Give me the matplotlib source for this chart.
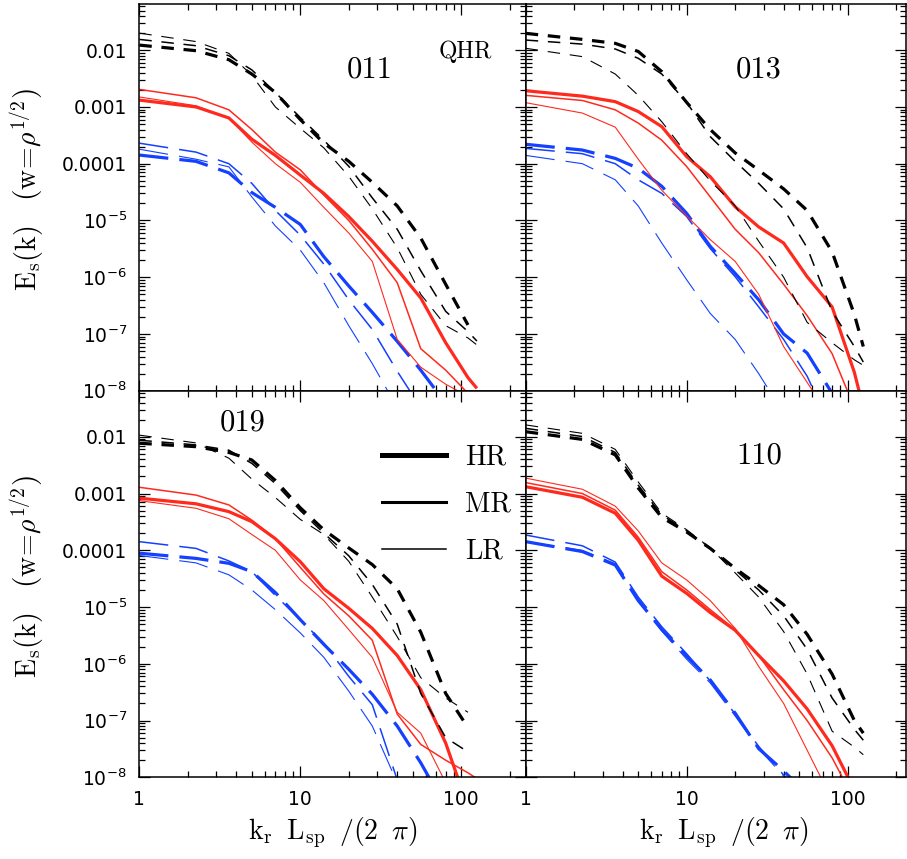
import matplotlib
matplotlib.use("Agg")
import matplotlib.pyplot as plt
import numpy as np
from matplotlib.lines import Line2D
from matplotlib.ticker import FixedLocator, FixedFormatter, LogLocator, NullFormatter

plt.rcParams['lines.scale_dashes'] = False
nan = float('nan')

# ---------------- data ----------------
k = [1, 2.25, 3.6, 5, 7, 10, 14, 20, 28, 40, 56, 80, 110, 125]

# panel 011
black_hr_011 = [1.23e-2, 9.8e-3, 6.8e-3, 3.8e-3, 1.8e-3, 6.0e-4, 2.3e-4, 1.1e-4, 4.7e-5, 1.8e-5, 4.9e-6, 7.5e-7, 1.44e-7, nan]
black_mr_011 = [1.55e-2, 1.20e-2, 8.0e-3, 4.5e-3, 1.8e-3, 6.5e-4, 2.6e-4, 9.0e-5, 2.5e-5, 7.0e-6, 1.3e-6, 2.5e-7, 1.1e-7, 7.5e-8]
black_lr_011 = [2.0e-2, 1.42e-2, 8.8e-3, 3.6e-3, 1.0e-3, 4.2e-4, 1.9e-4, 6.0e-5, 1.6e-5, 3.3e-6, 5.0e-7, 1.4e-7, 8.5e-8, 6.4e-8]
red_hr_011 = [1.32e-3, 1.0e-3, 6.4e-4, 2.7e-4, 1.4e-4, 6.3e-5, 3.0e-5, 1.17e-5, 4.3e-6, 1.37e-6, 4.3e-7, 7.0e-8, 1.7e-8, 1.1e-8]
red_mr_011 = [2.04e-3, 1.45e-3, 8.9e-4, 4.0e-4, 1.6e-4, 7.8e-5, 2.8e-5, 1.0e-5, 3.1e-6, 8.0e-7, 5.5e-8, 2.3e-8, 9e-9, nan]
red_lr_011 = [1.5e-3, 1.05e-3, 6.4e-4, 2.4e-4, 1.0e-4, 4.7e-5, 1.7e-5, 6.0e-6, 1.9e-6, 8.0e-8, 2.6e-8, 1.3e-8, 8e-9, nan]
blue_hr_011 = [1.42e-4, 1.10e-4, 6.9e-5, 3.1e-5, 1.7e-5, 8.5e-6, 2.3e-6, 7.0e-7, 2.4e-7, 7.4e-8, 2.3e-8, 6e-9, nan, nan]
blue_mr_011 = [2.3e-4, 1.6e-4, 1.0e-4, 4.5e-5, 1.5e-5, 5.5e-6, 1.7e-6, 4.0e-7, 1.2e-7, 2.2e-8, 5e-9, nan, nan, nan]
blue_lr_011 = [1.8e-4, 1.2e-4, 8.8e-5, 2.6e-5, 8.0e-6, 3.0e-6, 8.0e-7, 1.4e-7, 3.0e-8, 5e-9, nan, nan, nan, nan]

# panel 013
black_hr_013 = [1.98e-2, 1.55e-2, 1.32e-2, 9.5e-3, 4.2e-3, 1.2e-3, 4.0e-4, 1.55e-4, 7.7e-5, 3.6e-5, 1.5e-5, 2.8e-6, 2.2e-7, 6.0e-8]
black_mr_013 = [1.51e-2, 1.28e-2, 1.05e-2, 7.2e-3, 3.8e-3, 1.2e-3, 3.0e-4, 1.1e-4, 4.5e-5, 1.6e-5, 3.3e-6, 2.5e-7, 6.0e-8, 3.2e-8]
black_lr_013 = [1.08e-2, 7.7e-3, 3.8e-3, 1.6e-3, 5.5e-4, 1.5e-4, 5.0e-5, 1.8e-5, 4.3e-6, 1.0e-6, 1.6e-7, 7.0e-8, 3.5e-8, 2.8e-8]
red_hr_013 = [1.93e-3, 1.55e-3, 1.24e-3, 8.3e-4, 4.5e-4, 1.33e-4, 5.9e-5, 1.74e-5, 7.7e-6, 4.0e-6, 1.02e-6, 3.0e-7, 2.1e-8, 5e-9]
red_mr_013 = [1.6e-3, 1.3e-3, 8.9e-4, 5.2e-4, 2.6e-4, 8.9e-5, 2.6e-5, 7.0e-6, 2.7e-6, 7.5e-7, 2.1e-7, 4.5e-8, 5e-9, nan]
red_lr_013 = [1.19e-3, 7.8e-4, 4.4e-4, 1.2e-4, 3.4e-5, 1.2e-5, 4.6e-6, 1.9e-6, 5.0e-7, 6.0e-8, 1.4e-8, 3e-9, nan, nan]
blue_hr_013 = [2.2e-4, 1.74e-4, 1.24e-4, 8.3e-5, 4.0e-5, 1.33e-5, 3.5e-6, 1.17e-6, 4.0e-7, 1.0e-7, 4.6e-8, 9e-9, nan, nan]
blue_mr_013 = [1.86e-4, 1.5e-4, 1.0e-4, 5.2e-5, 3.0e-5, 1.17e-5, 3.2e-6, 1.02e-6, 3.0e-7, 8.0e-8, 1.8e-8, 2e-9, nan, nan]
blue_lr_013 = [1.4e-4, 1.0e-4, 5.2e-5, 1.8e-5, 4.0e-6, 9.0e-7, 2.3e-7, 8.0e-8, 2.0e-8, 4e-9, nan, nan, nan, nan]

# panel 019
black_hr_019 = [7.7e-3, 6.7e-3, 5.3e-3, 3.9e-3, 1.7e-3, 5.6e-4, 2.3e-4, 1.1e-4, 5.6e-5, 2.1e-5, 3.6e-6, 3.0e-7, 7.5e-8, nan]
black_mr_019 = [8.7e-3, 7.2e-3, 5.8e-3, 3.4e-3, 1.5e-3, 5.0e-4, 2.0e-4, 8.0e-5, 2.5e-5, 5.0e-6, 3.0e-7, 5.0e-8, 2.8e-8, nan]
black_lr_019 = [1.07e-2, 7.8e-3, 4.2e-3, 1.8e-3, 8.5e-4, 3.5e-4, 1.9e-4, 6.4e-5, 1.5e-5, 3.0e-6, 5.7e-7, 2.5e-7, 1.4e-7, nan]
red_hr_019 = [8.3e-4, 6.6e-4, 4.8e-4, 3.2e-4, 1.6e-4, 6.3e-5, 2.1e-5, 9.5e-6, 4.2e-6, 1.4e-6, 3.5e-7, 4.0e-8, 3e-9, nan]
red_mr_019 = [1.29e-3, 9.4e-4, 6.3e-4, 3.4e-4, 1.6e-4, 5.0e-5, 1.7e-5, 7.0e-6, 2.6e-6, 1.3e-7, 3.8e-8, 2.0e-8, 1.2e-8, 9.5e-9]
red_lr_019 = [7.5e-4, 5.5e-4, 3.6e-4, 1.9e-4, 1.0e-4, 3.0e-5, 1.3e-5, 4.0e-6, 1.3e-6, 1.4e-7, 6.0e-8, 8e-9, nan, nan]
blue_hr_019 = [8.9e-5, 7.2e-5, 5.9e-5, 4.2e-5, 1.8e-5, 6.0e-6, 2.2e-6, 8.0e-7, 2.9e-7, 8.0e-8, 1.8e-8, 3e-9, nan, nan]
blue_mr_019 = [1.42e-4, 1.08e-4, 6.5e-5, 4.2e-5, 1.6e-5, 6.0e-6, 2.3e-6, 6.0e-7, 1.9e-7, 9e-9, nan, nan, nan, nan]
blue_lr_019 = [8.1e-5, 6.0e-5, 3.7e-5, 2.0e-5, 9.0e-6, 3.5e-6, 1.3e-6, 3.3e-7, 8.0e-8, 8e-9, nan, nan, nan, nan]

# panel 110
black_hr_110 = [1.23e-2, 9.0e-3, 4.8e-3, 1.25e-3, 3.8e-4, 2.1e-4, 1.08e-4, 4.8e-5, 2.4e-5, 1.1e-5, 3.3e-6, 6.6e-7, 1.0e-7, 6.0e-8]
black_mr_110 = [1.41e-2, 1.01e-2, 5.3e-3, 1.4e-3, 4.2e-4, 2.2e-4, 1.1e-4, 4.5e-5, 2.0e-5, 7.0e-6, 1.8e-6, 2.5e-7, 7.0e-8, 4.5e-8]
black_lr_110 = [1.62e-2, 1.15e-2, 6.0e-3, 1.6e-3, 4.5e-4, 2.3e-4, 1.1e-4, 4.0e-5, 1.5e-5, 3.7e-6, 6.6e-7, 6.5e-8, 3.4e-8, 2.5e-8]
red_hr_110 = [1.32e-3, 8.6e-4, 4.5e-4, 1.5e-4, 3.5e-5, 1.74e-5, 8.0e-6, 3.9e-6, 1.4e-6, 5.0e-7, 1.6e-7, 3.6e-8, 6e-9, nan]
red_mr_110 = [1.56e-3, 1.0e-3, 5.1e-4, 1.7e-4, 4.2e-5, 2.0e-5, 9.0e-6, 4.0e-6, 1.4e-6, 3.5e-7, 1.0e-7, 2.2e-8, 4e-9, nan]
red_lr_110 = [1.87e-3, 1.19e-3, 6.0e-4, 2.2e-4, 6.0e-5, 3.0e-5, 1.3e-5, 4.2e-6, 9.0e-7, 2.0e-7, 3.0e-8, 4e-9, nan, nan]
blue_hr_110 = [1.42e-4, 9.5e-5, 5.5e-5, 1.3e-5, 4.0e-6, 1.35e-6, 5.2e-7, 1.35e-7, 3.2e-8, 1.3e-8, 5e-9, nan, nan, nan]
blue_mr_110 = [1.86e-4, 1.2e-4, 6.2e-5, 1.5e-5, 4.5e-6, 1.5e-6, 5.0e-7, 1.3e-7, 3.5e-8, 1.1e-8, 4e-9, nan, nan, nan]
blue_lr_110 = [1.42e-4, 1.0e-4, 5.8e-5, 1.4e-5, 3.8e-6, 1.2e-6, 4.6e-7, 1.2e-7, 3.2e-8, 1.05e-8, 4e-9, nan, nan, nan]

panel_names = ['011', '013', '019', '110']
resolutions = ['HR', 'MR', 'LR']
ytick_values = [1e-2, 1e-3, 1e-4, 1e-5, 1e-6, 1e-7, 1e-8]
ytick_labels = ['0.01', '0.001', '0.0001', r'$10^{-5}$', r'$10^{-6}$', r'$10^{-7}$', r'$10^{-8}$']
xtick_values = [1, 10, 100]
xtick_labels = ['1', '10', '100']

series = {
    '011': {'black': [black_hr_011, black_mr_011, black_lr_011],
            'red': [red_hr_011, red_mr_011, red_lr_011],
            'blue': [blue_hr_011, blue_mr_011, blue_lr_011]},
    '013': {'black': [black_hr_013, black_mr_013, black_lr_013],
            'red': [red_hr_013, red_mr_013, red_lr_013],
            'blue': [blue_hr_013, blue_mr_013, blue_lr_013]},
    '019': {'black': [black_hr_019, black_mr_019, black_lr_019],
            'red': [red_hr_019, red_mr_019, red_lr_019],
            'blue': [blue_hr_019, blue_mr_019, blue_lr_019]},
    '110': {'black': [black_hr_110, black_mr_110, black_lr_110],
            'red': [red_hr_110, red_mr_110, red_lr_110],
            'blue': [blue_hr_110, blue_mr_110, blue_lr_110]},
}

# ---------------- style ----------------
colors = {'black': 'black', 'red': '#ff2a1e', 'blue': '#1440ff'}
dashes = {'black': (9, 7), 'red': None, 'blue': (21, 8)}
widths = [2.3, 1.1, 0.8]

W, H = 907, 859
fig = plt.figure(figsize=(W / 100, H / 100), dpi=100)

x0L, x0R = 139.3, 525.7
wL, wR = 386.4, 380.3
decx = 161.0
decy = 56.75
top_rows = [(4.0, 390.7), (391.0, 777.3)]

layout = {
    '011': (x0L, wL, 0, True, False),
    '013': (x0R, wR, 0, False, False),
    '019': (x0L, wL, 1, True, True),
    '110': (x0R, wR, 1, False, True),
}
label_pos = {'011': (0.597, 0.829), '013': (0.612, 0.829),
             '019': (0.268, 0.917), '110': (0.613, 0.832)}

axes = {}
for name in panel_names:
    x0, w, row, left, bottom = layout[name]
    yt, yb = top_rows[row]
    ax = fig.add_axes([x0 / W, 1 - yb / H, w / W, (yb - yt) / H])
    axes[name] = ax
    ax.set_xscale('log')
    ax.set_yscale('log')
    for col in ['blue', 'red', 'black']:
        for i, vals in enumerate(series[name][col]):
            kw = dict(color=colors[col], lw=widths[i], solid_capstyle='butt',
                      dash_capstyle='butt')
            ln, = ax.plot(k, vals, **kw)
            if dashes[col] is not None:
                ln.set_dashes(dashes[col])
    ax.set_xlim(1, 10 ** (w / decx))
    ax.set_ylim(1e-8, 10 ** (-8 + (yb - yt) / decy))

    ax.xaxis.set_major_locator(FixedLocator(xtick_values))
    ax.xaxis.set_minor_locator(LogLocator(base=10, subs=np.arange(2, 10), numticks=50))
    ax.yaxis.set_major_locator(FixedLocator(ytick_values))
    ax.yaxis.set_minor_locator(LogLocator(base=10, subs=np.arange(2, 10), numticks=50))
    ax.xaxis.set_minor_formatter(NullFormatter())
    ax.yaxis.set_minor_formatter(NullFormatter())
    if bottom:
        ax.xaxis.set_major_formatter(FixedFormatter(xtick_labels))
    else:
        ax.xaxis.set_major_formatter(NullFormatter())
    if left:
        ax.yaxis.set_major_formatter(FixedFormatter(ytick_labels))
    else:
        ax.yaxis.set_major_formatter(NullFormatter())
    ax.tick_params(which='both', direction='in', top=True, right=True,
                   width=0.9, colors='black', labelsize=13.5, pad=9)
    ax.tick_params(which='major', length=8)
    ax.tick_params(which='minor', length=4.5)
    for lab in ax.get_xticklabels() + ax.get_yticklabels():
        lab.set_family('DejaVu Sans')
    for sp in ax.spines.values():
        sp.set_linewidth(1.1)

    if left:
        ax.set_ylabel(r'$\mathrm{E_s(k)}\quad\left(\mathrm{w}\!=\!\rho^{1/2}\right)$',
                      fontsize=20, math_fontfamily='cm', va='center')
        ax.yaxis.set_label_coords(-0.29, 0.52)
    if bottom:
        ax.set_xlabel(r'$\mathrm{k_r\;\;L_{sp}\;\;/(2\;\;\pi)}$',
                      fontsize=20, math_fontfamily='cm', va='center')
        ax.xaxis.set_label_coords(0.5 if left else 0.52, -0.144)

    px, py = label_pos[name]
    ax.text(px, py, name, transform=ax.transAxes, ha='center', va='center',
            fontsize=22, family='cmr10')

axes['011'].text(0.843, 0.876, 'QHR', transform=axes['011'].transAxes,
                 ha='center', va='center', fontsize=17, family='cmr10')

handles = [Line2D([], [], color='black', lw=lw) for lw in (3.6, 2.2, 1.1)]
leg = axes['019'].legend(handles, resolutions, loc='upper left',
                         bbox_to_anchor=(0.593, 0.898), frameon=False,
                         borderpad=0, handlelength=2.3, handletextpad=0.68,
                         labelspacing=0.75, prop={'family': 'cmr10', 'size': 20})

fig.savefig('out.png', dpi=100)
